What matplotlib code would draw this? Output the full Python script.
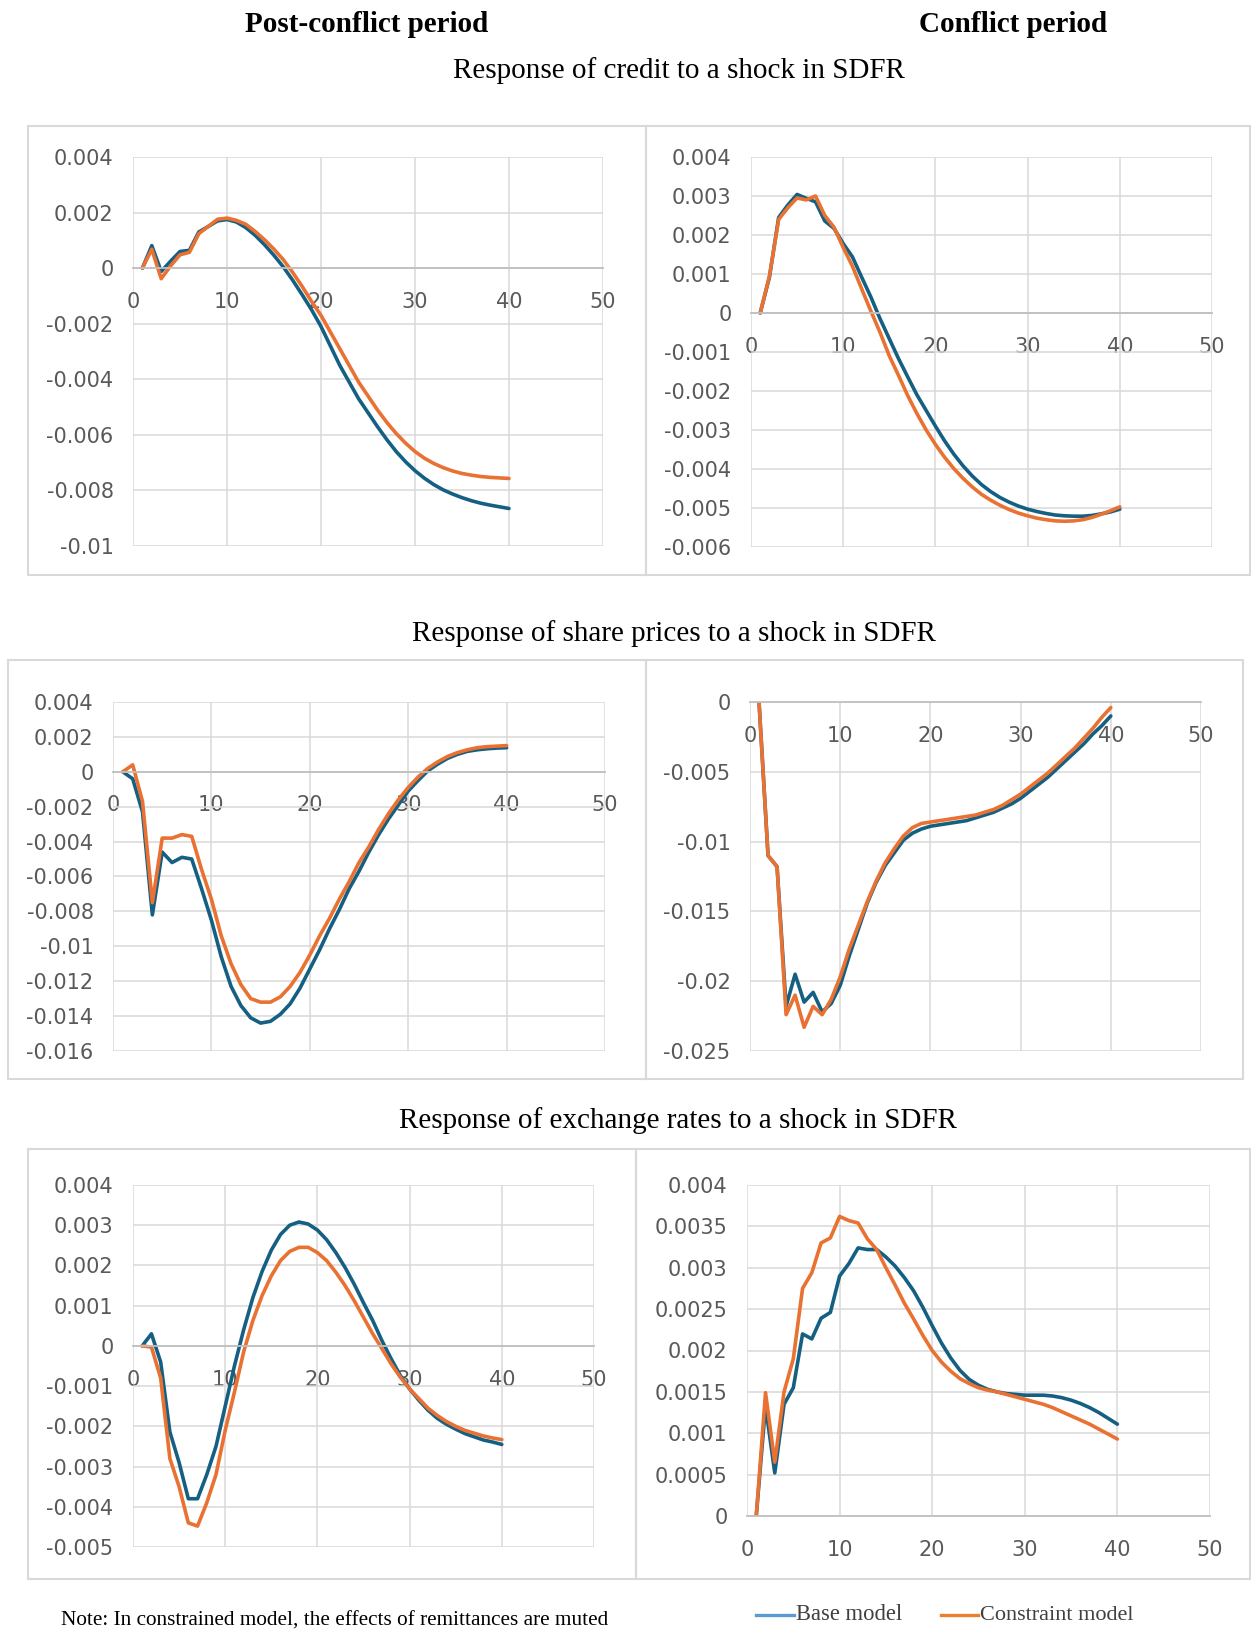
import matplotlib.pyplot as plt
from matplotlib.patches import Rectangle
from matplotlib.lines import Line2D

steps = list(range(1, 41))

# response of credit, post-conflict
credit_post_base = [0, 0.00081, -0.00012, 0.00025, 0.0006, 0.00064, 0.0013, 0.0015, 0.0017, 0.00175,
                    0.00166, 0.00146, 0.00118, 0.00084, 0.00046, 0.00004, -0.00044, -0.00096, -0.0015, -0.0021,
                    -0.0028, -0.0035, -0.0041, -0.0047, -0.0052, -0.0057, -0.00617, -0.0066, -0.00697, -0.00729,
                    -0.00756, -0.00779, -0.00798, -0.00813, -0.00826, -0.00837, -0.00846, -0.00853, -0.00859, -0.00865]
credit_post_con = [0, 0.00068, -0.00038, 0.00008, 0.00048, 0.00057, 0.00124, 0.0015, 0.00176, 0.0018,
                   0.00172, 0.00158, 0.00132, 0.00102, 0.00068, 0.0003, -0.00016, -0.00066, -0.0012, -0.0017,
                   -0.0023, -0.0029, -0.0035, -0.0041, -0.0046, -0.0051, -0.00555, -0.00595, -0.0063, -0.0066,
                   -0.00684, -0.00703, -0.00718, -0.0073, -0.00739, -0.00745, -0.0075, -0.00753, -0.00755, -0.00757]

# response of credit, conflict
credit_conf_base = [0, 0.00092, 0.00245, 0.00277, 0.00304, 0.00294, 0.00285, 0.00236, 0.00217, 0.00178,
                    0.00144, 0.00092, 0.00041, -0.00015, -0.00066, -0.00117, -0.00164, -0.0021, -0.0025, -0.0029,
                    -0.00328, -0.00362, -0.00392, -0.00418, -0.0044, -0.00458, -0.00473, -0.00485, -0.00495, -0.00503,
                    -0.00509, -0.00514, -0.00518, -0.0052, -0.00521, -0.00521, -0.00519, -0.00515, -0.0051, -0.00503]
credit_conf_con = [0, 0.00095, 0.0024, 0.0027, 0.00295, 0.0029, 0.003, 0.0025, 0.0022, 0.00168,
                   0.0012, 0.00062, 0.00005, -0.0005, -0.0011, -0.0016, -0.00212, -0.00258, -0.003, -0.00337,
                   -0.0037, -0.00399, -0.00424, -0.00446, -0.00465, -0.0048, -0.00493, -0.00504, -0.00513, -0.0052,
                   -0.00526, -0.0053, -0.00533, -0.00534, -0.00533, -0.0053, -0.00524, -0.00516, -0.00507, -0.00497]

# response of share prices, post-conflict
share_post_base = [0, -0.0004, -0.0023, -0.0082, -0.0046, -0.0052, -0.0049, -0.005, -0.0067, -0.0085,
                   -0.0106, -0.0123, -0.0134, -0.0141, -0.0144, -0.0143, -0.0139, -0.0133, -0.0124, -0.0113,
                   -0.0102, -0.009, -0.0079, -0.0067, -0.0057, -0.0046, -0.0036, -0.0027, -0.0019, -0.0011,
                   -0.0005, 0.00006, 0.00044, 0.00077, 0.001, 0.00117, 0.00126, 0.00132, 0.00136, 0.00138]
share_post_con = [0, 0.0004, -0.0017, -0.0075, -0.0038, -0.0038, -0.0036, -0.0037, -0.0056, -0.0073,
                  -0.0094, -0.011, -0.0122, -0.013, -0.0132, -0.0132, -0.0129, -0.0123, -0.0115, -0.0105,
                  -0.0094, -0.0084, -0.0073, -0.0063, -0.0052, -0.0043, -0.0033, -0.0024, -0.0016, -0.0009,
                  -0.0003, 0.0002, 0.00057, 0.00088, 0.0011, 0.00126, 0.00138, 0.00144, 0.00147, 0.0015]

# response of share prices, conflict
share_conf_base = [0, -0.011, -0.0118, -0.0218, -0.0195, -0.0215, -0.0208, -0.0222, -0.0216, -0.0203,
                   -0.0182, -0.0163, -0.0144, -0.0129, -0.0117, -0.0108, -0.0099, -0.0094, -0.0091, -0.0089,
                   -0.0088, -0.0087, -0.0086, -0.0085, -0.0083, -0.0081, -0.0079, -0.0076, -0.0073, -0.0069,
                   -0.0064, -0.0059, -0.0054, -0.0048, -0.0042, -0.0036, -0.0030, -0.0023, -0.0017, -0.0010]
share_conf_con = [0, -0.011, -0.0118, -0.0224, -0.021, -0.0233, -0.0218, -0.0224, -0.0213, -0.0197,
                  -0.0177, -0.016, -0.0143, -0.0128, -0.0115, -0.0105, -0.0096, -0.009, -0.0087, -0.0086,
                  -0.0085, -0.0084, -0.0083, -0.0082, -0.0081, -0.0079, -0.0077, -0.0074, -0.0070, -0.0066,
                  -0.0061, -0.0056, -0.0051, -0.0045, -0.0039, -0.0033, -0.0026, -0.0019, -0.0011, -0.0004]

# response of exchange rates, post-conflict
fx_post_base = [0, 0.0003, -0.0004, -0.00214, -0.0029, -0.0038, -0.0038, -0.0032, -0.0025, -0.0015,
                -0.0005, 0.0004, 0.0012, 0.00185, 0.00238, 0.00277, 0.003, 0.00308, 0.00303, 0.00288,
                0.00264, 0.00232, 0.00195, 0.00153, 0.00107, 0.00063, 0.00013, -0.00032, -0.00074, -0.00107,
                -0.00135, -0.0016, -0.0018, -0.00195, -0.00207, -0.00218, -0.00226, -0.00234, -0.00239, -0.00245]
fx_post_con = [0, -0.00003, -0.0008, -0.0028, -0.0035, -0.0044, -0.00448, -0.0039, -0.0032, -0.0021,
               -0.00115, -0.00015, 0.00063, 0.00125, 0.00174, 0.00212, 0.00235, 0.00245, 0.00245, 0.00232,
               0.00212, 0.00183, 0.0015, 0.00112, 0.00071, 0.0003, -0.00007, -0.00045, -0.00078, -0.00107,
               -0.00131, -0.00155, -0.00173, -0.00188, -0.002, -0.0021, -0.00217, -0.00224, -0.00229, -0.00233]

# response of exchange rates, conflict
fx_conf_base = [0, 0.00133, 0.00052, 0.00135, 0.00155, 0.0022, 0.00214, 0.00239, 0.00246, 0.0029,
                0.00305, 0.00324, 0.00322, 0.00322, 0.00313, 0.00302, 0.00288, 0.00272, 0.00252, 0.0023,
                0.00209, 0.00191, 0.00176, 0.00165, 0.00158, 0.00153, 0.0015, 0.00148, 0.00147, 0.00146,
                0.00146, 0.00146, 0.00145, 0.00143, 0.0014, 0.00136, 0.00131, 0.00125, 0.00118, 0.00111]
fx_conf_con = [0, 0.00149, 0.00065, 0.0015, 0.0019, 0.00275, 0.00294, 0.0033, 0.00336, 0.00362,
               0.00357, 0.00354, 0.00335, 0.00322, 0.003, 0.00279, 0.00257, 0.00238, 0.00218, 0.002,
               0.00186, 0.00175, 0.00166, 0.0016, 0.00155, 0.00152, 0.0015, 0.00147, 0.00144, 0.00141,
               0.00138, 0.00135, 0.00131, 0.00126, 0.00121, 0.00116, 0.00111, 0.00105, 0.00099, 0.00093]

x_ticks = [0, 10, 20, 30, 40, 50]
yt_credit_post = ["0.004", "0.002", "0", "-0.002", "-0.004", "-0.006", "-0.008", "-0.01"]
yt_credit_conf = ["0.004", "0.003", "0.002", "0.001", "0", "-0.001", "-0.002", "-0.003", "-0.004", "-0.005", "-0.006"]
yt_share_post = ["0.004", "0.002", "0", "-0.002", "-0.004", "-0.006", "-0.008", "-0.01",
                 "-0.012", "-0.014", "-0.016"]
yt_share_conf = ["0", "-0.005", "-0.01", "-0.015", "-0.02", "-0.025"]
yt_fx_post = ["0.004", "0.003", "0.002", "0.001", "0", "-0.001", "-0.002", "-0.003", "-0.004", "-0.005"]
yt_fx_conf = ["0.004", "0.0035", "0.003", "0.0025", "0.002", "0.0015", "0.001", "0.0005", "0"]

base_color = "#156082"
con_color = "#e97132"
grid_color = "#d9d9d9"
tick_color = "#595959"

W, H = 1251, 1643
fig = plt.figure(figsize=(W / 100, H / 100), dpi=100)


def px_axes(x0, y0, x1, y1):
    return fig.add_axes([x0 / W, 1 - y1 / H, (x1 - x0) / W, (y1 - y0) / H])


def box(x0, y0, x1, y1):
    fig.patches.append(Rectangle((x0 / W, 1 - y1 / H), (x1 - x0) / W, (y1 - y0) / H,
                                 transform=fig.transFigure, fill=False,
                                 edgecolor=grid_color, lw=1.5))


def panel(ax, base, con, ylabels):
    vals = [float(s) for s in ylabels]
    ax.plot(steps, base, color=base_color, lw=2.6, solid_joinstyle="round", solid_capstyle="round")
    ax.plot(steps, con, color=con_color, lw=2.6, solid_joinstyle="round", solid_capstyle="round")
    ax.set_xlim(0, 50)
    ax.set_ylim(min(vals), max(vals))
    ax.set_xticks(x_ticks, labels=[str(t) for t in x_ticks])
    ax.set_yticks(vals, labels=ylabels)
    ax.grid(color=grid_color, lw=1.1)
    ax.set_axisbelow(True)
    for s in ["top", "right", "left"]:
        ax.spines[s].set_visible(False)
    ax.spines["bottom"].set_position(("data", 0))
    ax.spines["bottom"].set_color("#bfbfbf")
    ax.spines["bottom"].set_linewidth(1.3)
    ax.tick_params(length=0, labelsize=15, labelcolor=tick_color)
    ax.tick_params(axis="y", pad=14)
    ax.tick_params(axis="x", pad=17)


box(28, 126, 646, 575)
box(646, 126, 1250, 575)
box(8, 660, 646, 1079)
box(646, 660, 1243, 1079)
box(28, 1149, 636, 1579)
box(636, 1149, 1250, 1579)

panel(px_axes(133, 157, 603, 546), credit_post_base, credit_post_con, yt_credit_post)
panel(px_axes(751, 157, 1212, 547), credit_conf_base, credit_conf_con, yt_credit_conf)
panel(px_axes(113, 702, 605, 1051), share_post_base, share_post_con, yt_share_post)
panel(px_axes(750, 702, 1201, 1051), share_conf_base, share_conf_con, yt_share_conf)
panel(px_axes(133, 1185, 594, 1547), fx_post_base, fx_post_con, yt_fx_post)
panel(px_axes(747, 1185, 1210, 1516), fx_conf_base, fx_conf_con, yt_fx_conf)

serif = "Liberation Serif"
fig.text(367 / W, 1 - 25 / H, "Post-conflict period", ha="center", va="center",
         family=serif, weight="bold", size=21)
fig.text(1013 / W, 1 - 25 / H, "Conflict period", ha="center", va="center",
         family=serif, weight="bold", size=21)
fig.text(679 / W, 1 - 71 / H, "Response of credit to a shock in SDFR", ha="center", va="center",
         family=serif, size=21)
fig.text(674 / W, 1 - 634 / H, "Response of share prices to a shock in SDFR", ha="center", va="center",
         family=serif, size=21)
fig.text(678 / W, 1 - 1121 / H, "Response of exchange rates to a shock in SDFR", ha="center", va="center",
         family=serif, size=21)

fig.text(61 / W, 1 - 1621 / H, "Note: In constrained model, the effects of remittances are muted",
         ha="left", va="center", family=serif, size=15.3)

# legend, drawn by hand like the pasted one
fig.lines.append(Line2D([756 / W, 794 / W], [1 - 1615 / H] * 2, transform=fig.transFigure,
                        color="#5b9bd5", lw=2.4))
fig.text(796 / W, 1 - 1615 / H, "Base model", ha="left", va="center", family=serif,
         size=16.3, color="#404040")
fig.lines.append(Line2D([941 / W, 978 / W], [1 - 1615 / H] * 2, transform=fig.transFigure,
                        color="#ed7d31", lw=2.4))
fig.text(980 / W, 1 - 1615 / H, "Constraint model", ha="left", va="center", family=serif,
         size=16, color="#404040")

fig.savefig("out.png", dpi=100, facecolor="white")
